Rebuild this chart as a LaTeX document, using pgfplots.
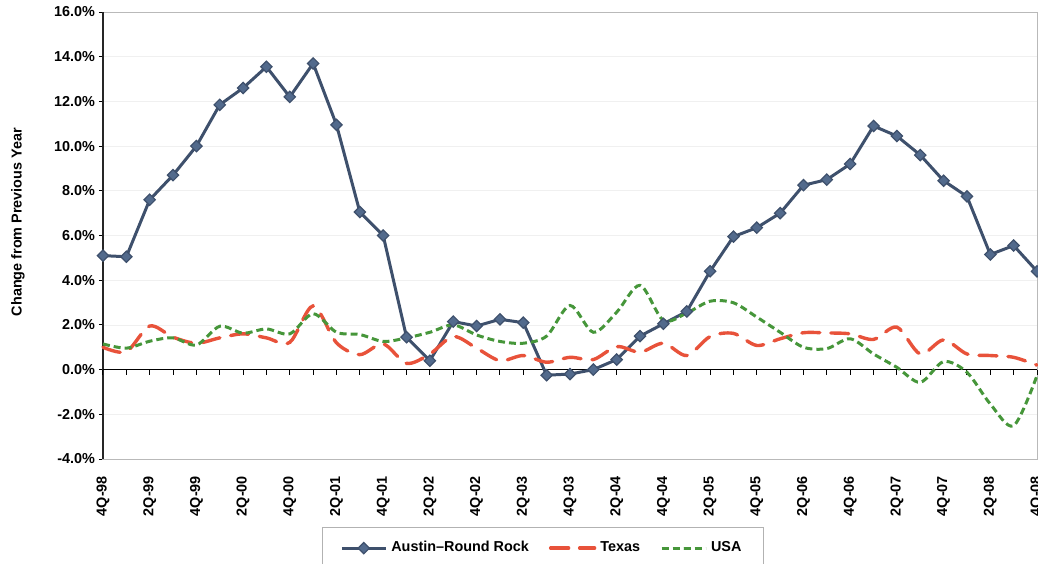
\documentclass[border=0pt]{standalone}
\usepackage{pgfplots}
\usepackage{pgfplotstable}
\pgfplotsset{compat=1.18}
\usepackage{fontspec}
\setmainfont{Liberation Sans}
\definecolor{austin}{RGB}{62,80,108}
\definecolor{austinfill}{RGB}{82,106,140}
\definecolor{texas}{RGB}{232,82,58}
\definecolor{usa}{RGB}{70,150,58}

\pgfplotstableread{
i austin texas usa
0 5.10 1.00 1.15
1 5.05 0.80 0.96
2 7.60 1.95 1.27
3 8.70 1.45 1.42
4 10.00 1.18 1.10
5 11.85 1.42 1.94
6 12.60 1.60 1.63
7 13.55 1.42 1.82
8 12.20 1.22 1.60
9 13.70 2.85 2.50
10 10.95 1.20 1.67
11 7.05 0.67 1.57
12 6.00 1.15 1.26
13 1.45 0.28 1.42
14 0.40 0.70 1.67
15 2.15 1.48 2.00
16 1.95 0.96 1.55
17 2.25 0.40 1.26
18 2.10 0.63 1.18
19 -0.25 0.33 1.50
20 -0.20 0.55 2.87
21 0.00 0.45 1.67
22 0.45 1.03 2.57
23 1.50 0.78 3.77
24 2.05 1.18 2.20
25 2.60 0.63 2.53
26 4.40 1.48 3.06
27 5.95 1.62 2.99
28 6.35 1.08 2.35
29 7.00 1.38 1.67
30 8.25 1.65 1.00
31 8.50 1.64 0.94
32 9.20 1.60 1.38
33 10.90 1.35 0.70
34 10.45 1.90 0.10
35 9.60 0.70 -0.57
36 8.45 1.33 0.36
37 7.75 0.70 -0.12
38 5.15 0.63 -1.54
39 5.55 0.55 -2.51
40 4.40 0.20 -0.27
}\data

\begin{document}
\begin{tikzpicture}[font=\fontsize{7.2}{8.6}\selectfont\bfseries]
\begin{axis}[
  scale only axis, width=467pt, height=223.5pt,
  xmin=0, xmax=40, ymin=-4, ymax=16,
  clip=false,
  axis line style={draw=gray!55, line width=0.5pt},
  xtick={0,2,...,40},
  xticklabels={4Q-98,2Q-99,4Q-99,2Q-00,4Q-00,2Q-01,4Q-01,2Q-02,4Q-02,2Q-03,4Q-03,2Q-04,4Q-04,2Q-05,4Q-05,2Q-06,4Q-06,2Q-07,4Q-07,2Q-08,4Q-08},
  x tick label style={rotate=90, anchor=east},
  xticklabel shift=3pt,
  xtick style={draw=none},
  ytick={-4,-2,...,16},
  yticklabels={-4.0\%,-2.0\%,0.0\%,2.0\%,4.0\%,6.0\%,8.0\%,10.0\%,12.0\%,14.0\%,16.0\%},
  y tick label style={xshift=1.5pt},
  ytick pos=left, tick align=outside,
  major tick length=2pt,
  ytick style={black, line width=0.5pt},
  ymajorgrids, grid style={gray!12, line width=0.4pt},
  ylabel={Change from Previous Year},
  ylabel style={at={(axis description cs:-0.091,0.53)}, anchor=center},
  legend style={at={(axis description cs:0.471,-0.152)}, anchor=north,
    legend columns=3, draw=gray!60, line width=0.5pt,
    inner xsep=9pt, inner ysep=5pt,
    /tikz/every even column/.append style={column sep=8pt}},
  legend image code/.code={\draw[mark repeat=2,mark phase=2,#1] plot coordinates {(0pt,0pt) (11pt,0pt) (22pt,0pt)};},
]
\draw[black!85, line width=0.9pt] (rel axis cs:0,0) -- (rel axis cs:0,1);
\draw[black, line width=0.7pt] (axis cs:0,0) -- (axis cs:40,0);
\pgfplotsinvokeforeach{0,...,40}{\draw[black, line width=0.5pt] (axis cs:#1,0) -- ++(0pt,-2.5pt);}

\addplot[color=austin, line width=1.5pt, mark=square*, mark size=2pt,
  mark options={rotate=45, fill=austinfill, draw=austin, line width=0.6pt, solid}]
  table[x=i, y=austin] {\data};
\addlegendentry{Austin–Round Rock}
\addplot[color=texas, line width=1.7pt, smooth, line cap=round, dash pattern=on 9pt off 5.5pt]
  table[x=i, y=texas] {\data};
\addlegendentry{Texas}
\addplot[color=usa, line width=1.5pt, smooth, dash pattern=on 3.5pt off 2pt]
  table[x=i, y=usa] {\data};
\addlegendentry{USA}
\end{axis}
\pgfresetboundingbox
\path[use as bounding box] (-51.5pt,-52pt) rectangle (467.5pt,229.5pt);
\end{tikzpicture}
\end{document}
